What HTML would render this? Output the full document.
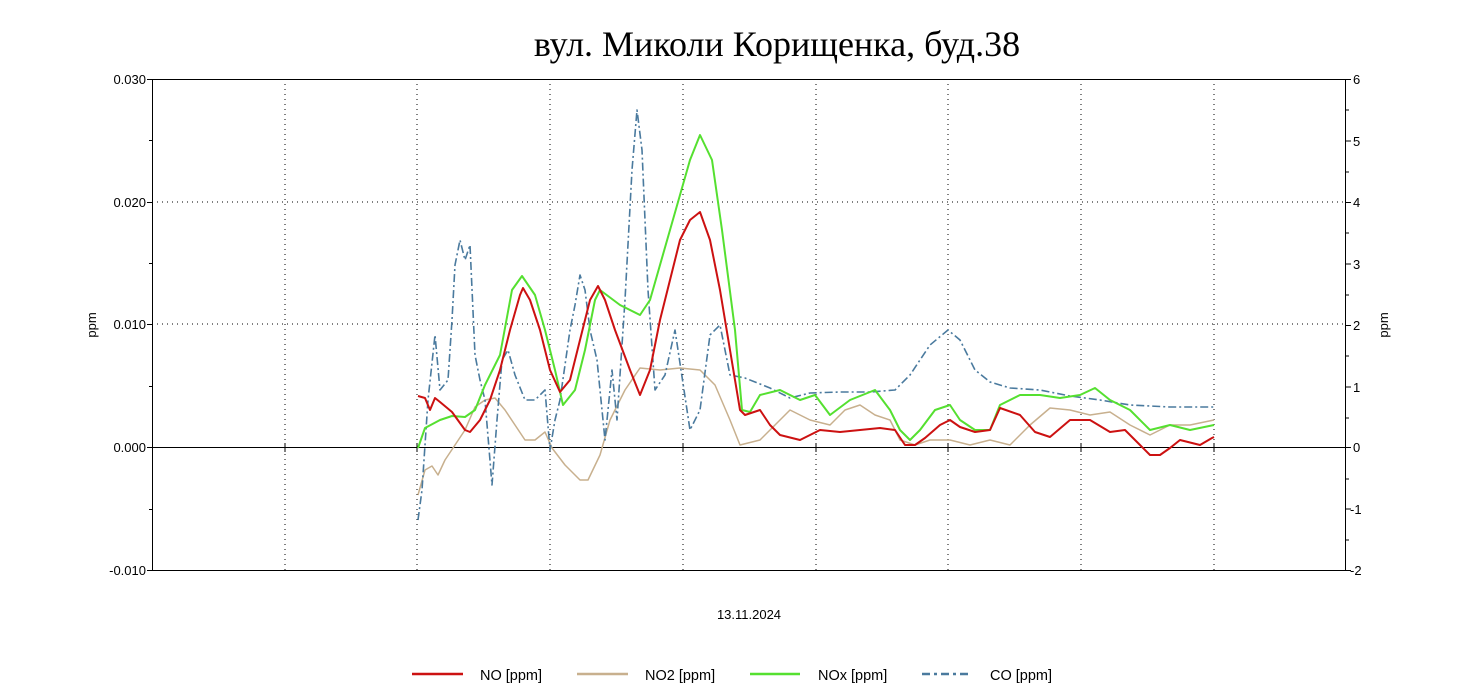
<!DOCTYPE html>
<html><head><meta charset="utf-8"><style>
body{margin:0;background:#fff;}
svg{display:block;}
text{font-family:"Liberation Sans",Arial,sans-serif;font-size:13px;fill:#000;}
.lg{font-size:14.5px;}
</style></head><body>
<svg width="1471" height="697" viewBox="0 0 1471 697" xmlns="http://www.w3.org/2000/svg">
<text x="777" y="56" text-anchor="middle" style="font-family:'Liberation Serif',serif;font-size:36px;">вул. Миколи Корищенка, буд.38</text>
<g stroke="#000" stroke-width="1" stroke-dasharray="1,4" fill="none">
<line x1="285" y1="79" x2="285" y2="571"/><line x1="417" y1="79" x2="417" y2="571"/>
<line x1="550" y1="79" x2="550" y2="571"/><line x1="683" y1="79" x2="683" y2="571"/>
<line x1="816" y1="79" x2="816" y2="571"/><line x1="948" y1="79" x2="948" y2="571"/>
<line x1="1081" y1="79" x2="1081" y2="571"/><line x1="1214" y1="79" x2="1214" y2="571"/>
<line x1="152" y1="202" x2="1346" y2="202"/><line x1="152" y1="324" x2="1346" y2="324"/>
</g>
<rect x="152.5" y="79.5" width="1193" height="491" fill="none" stroke="#000"/>
<line x1="152" y1="447.5" x2="1346" y2="447.5" stroke="#000"/>
<g stroke="#000">
<line x1="147" y1="79.5" x2="152" y2="79.5"/><line x1="147" y1="202.5" x2="152" y2="202.5"/><line x1="147" y1="324.5" x2="152" y2="324.5"/><line x1="147" y1="447.5" x2="152" y2="447.5"/><line x1="147" y1="570.5" x2="152" y2="570.5"/>
<line x1="149" y1="140.5" x2="152" y2="140.5"/><line x1="149" y1="263.5" x2="152" y2="263.5"/><line x1="149" y1="386.5" x2="152" y2="386.5"/><line x1="149" y1="509.5" x2="152" y2="509.5"/>
<line x1="1346" y1="79.5" x2="1351" y2="79.5"/><line x1="1346" y1="141" x2="1351" y2="141"/><line x1="1346" y1="202.5" x2="1351" y2="202.5"/><line x1="1346" y1="264" x2="1351" y2="264"/><line x1="1346" y1="325.5" x2="1351" y2="325.5"/><line x1="1346" y1="387" x2="1351" y2="387"/><line x1="1346" y1="447.5" x2="1351" y2="447.5"/><line x1="1346" y1="509" x2="1351" y2="509"/><line x1="1346" y1="570.5" x2="1351" y2="570.5"/>
<line x1="1346" y1="110" x2="1349" y2="110"/><line x1="1346" y1="172" x2="1349" y2="172"/><line x1="1346" y1="233" x2="1349" y2="233"/><line x1="1346" y1="295" x2="1349" y2="295"/><line x1="1346" y1="356" x2="1349" y2="356"/><line x1="1346" y1="418" x2="1349" y2="418"/><line x1="1346" y1="479" x2="1349" y2="479"/><line x1="1346" y1="540" x2="1349" y2="540"/>
<line x1="285" y1="443" x2="285" y2="452"/><line x1="417" y1="443" x2="417" y2="452"/><line x1="550" y1="443" x2="550" y2="452"/><line x1="683" y1="443" x2="683" y2="452"/><line x1="816" y1="443" x2="816" y2="452"/><line x1="948" y1="443" x2="948" y2="452"/><line x1="1081" y1="443" x2="1081" y2="452"/><line x1="1214" y1="443" x2="1214" y2="452"/>
</g>
<g text-anchor="end">
<text x="146" y="84">0.030</text><text x="146" y="207">0.020</text><text x="146" y="329">0.010</text><text x="146" y="452">0.000</text><text x="146" y="575">-0.010</text>
</g>
<g>
<text x="1353" y="84">6</text><text x="1353" y="146">5</text><text x="1353" y="207">4</text><text x="1353" y="269">3</text><text x="1353" y="330">2</text><text x="1353" y="392">1</text><text x="1353" y="452">0</text><text x="1350" y="514">-1</text><text x="1350" y="575">-2</text>
</g>
<text transform="translate(96,325) rotate(-90)" text-anchor="middle">ppm</text>
<text transform="translate(1388,325) rotate(-90)" text-anchor="middle">ppm</text>
<text x="749" y="619" text-anchor="middle">13.11.2024</text>
<g fill="none" stroke-width="2" stroke-linejoin="round">
<polyline stroke="#c8b08e" stroke-width="1.5" points="418,495 425,470 432,466 438,475 445,460 455,445 465,430 475,407 485,400 495,398 505,410 515,425 525,440 535,440 545,432 552,448 565,465 580,480 588,480 600,455 610,420 625,390 640,368 660,370 680,368 700,370 715,385 730,420 740,445 760,440 780,420 790,410 810,420 830,425 845,410 860,405 875,415 890,420 900,440 915,445 930,440 950,440 970,445 990,440 1010,445 1030,425 1050,408 1070,410 1090,415 1110,412 1130,425 1150,435 1170,425 1190,425 1214,420"/>
<polyline stroke="#4a7a9e" stroke-width="1.6" stroke-dasharray="8,3,2,3" points="418,520 422,490 428,400 435,335 440,390 448,380 452,320 455,265 460,240 465,260 470,245 475,355 480,380 485,400 492,485 497,420 502,360 508,350 515,375 525,400 535,400 545,390 550,450 555,420 560,400 570,330 575,305 580,275 585,290 590,330 597,360 605,440 612,370 617,420 625,300 632,170 637,110 642,150 648,290 655,390 665,375 675,330 690,430 700,410 710,335 720,325 730,375 745,378 770,388 790,398 810,393 840,392 870,392 895,390 910,375 930,345 948,330 960,340 975,370 990,382 1010,388 1040,390 1070,396 1100,400 1130,405 1170,407 1214,407"/>
<polyline stroke="#55e030" points="418,448 425,428 440,420 452,416 465,417 475,410 485,385 500,355 512,290 522,276 535,295 545,330 555,370 563,405 575,390 585,350 595,300 600,290 620,305 640,315 650,300 670,230 690,160 700,135 712,160 722,230 735,330 742,410 750,412 760,395 780,390 800,400 815,395 830,415 850,400 875,390 890,410 900,430 910,440 920,430 935,410 950,405 960,420 975,430 990,430 1000,405 1020,395 1040,395 1060,398 1080,395 1095,388 1110,400 1130,410 1150,430 1170,425 1190,430 1214,425"/>
<polyline stroke="#cc1111" points="418,396 425,398 430,410 435,398 440,402 452,412 465,430 470,432 480,420 490,400 500,370 510,330 520,295 523,288 530,300 540,330 550,370 560,392 570,380 580,340 590,300 598,286 605,300 615,330 630,370 640,395 650,370 660,320 670,280 680,240 690,220 700,212 710,240 720,290 730,350 740,410 745,415 760,410 770,425 780,435 800,440 820,430 840,432 860,430 880,428 895,430 905,445 915,445 925,438 940,425 950,420 960,427 975,432 990,430 1000,408 1020,415 1035,432 1050,437 1070,420 1090,420 1110,432 1125,430 1140,445 1150,455 1160,455 1170,448 1180,440 1200,445 1212,438 1214,437"/>
</g>
<g stroke-width="2.5">
<line x1="412" y1="674" x2="463" y2="674" stroke="#cc1111"/>
<line x1="577" y1="674" x2="628" y2="674" stroke="#c8b08e"/>
<line x1="750" y1="674" x2="800" y2="674" stroke="#55e030"/>
<line x1="922" y1="674" x2="972" y2="674" stroke="#4a7a9e" stroke-dasharray="8,4,3,4"/>
</g>
<text class="lg" x="480" y="680">NO [ppm]</text>
<text class="lg" x="645" y="680">NO2 [ppm]</text>
<text class="lg" x="818" y="680">NOx [ppm]</text>
<text class="lg" x="990" y="680">CO [ppm]</text>
</svg>
</body></html>
